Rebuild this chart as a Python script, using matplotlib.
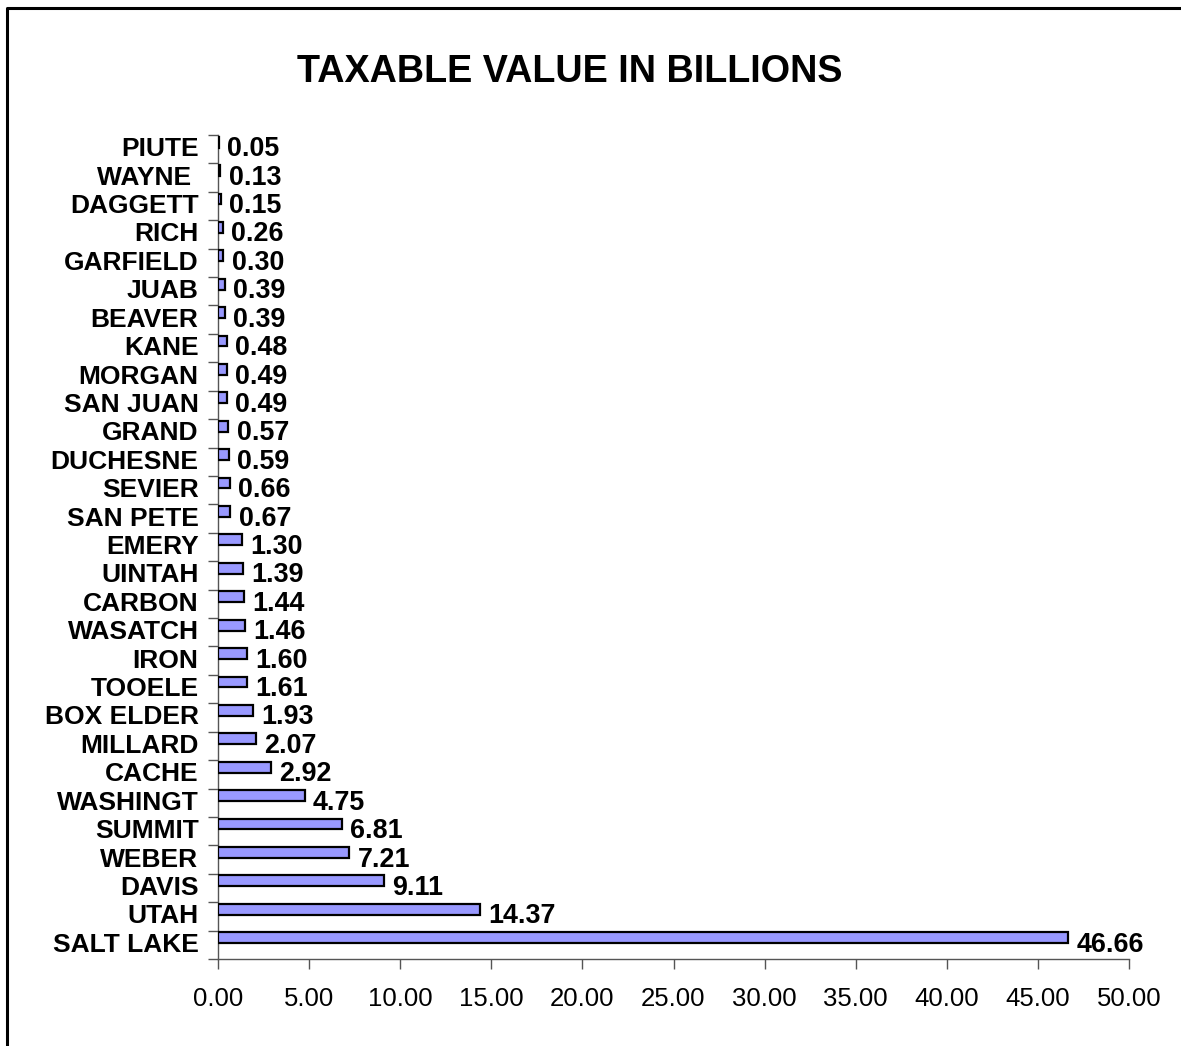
import numpy as np
import matplotlib.pyplot as plt
from matplotlib.lines import Line2D

plt.rcParams['font.family'] = ['Liberation Sans', 'DejaVu Sans']

# bottom to top, as drawn
counties = [
    "SALT LAKE", "UTAH", "DAVIS", "WEBER", "SUMMIT", "WASHINGT", "CACHE",
    "MILLARD", "BOX ELDER", "TOOELE", "IRON", "WASATCH", "CARBON", "UINTAH",
    "EMERY", "SAN PETE", "SEVIER", "DUCHESNE", "GRAND", "SAN JUAN", "MORGAN",
    "KANE", "BEAVER", "JUAB", "GARFIELD", "RICH", "DAGGETT", "WAYNE ", "PIUTE",
]
values = [
    46.66, 14.37, 9.11, 7.21, 6.81, 4.75, 2.92,
    2.07, 1.93, 1.61, 1.60, 1.46, 1.44, 1.39,
    1.30, 0.67, 0.66, 0.59, 0.57, 0.49, 0.49,
    0.48, 0.39, 0.39, 0.30, 0.26, 0.15, 0.13, 0.05,
]
xticks = [0, 5, 10, 15, 20, 25, 30, 35, 40, 45, 50]

fig = plt.figure(figsize=(11.81, 10.46), dpi=100)
ax = fig.add_axes([218 / 1181, 1 - 959 / 1046, (1129 - 218) / 1181, (959 - 135) / 1046])

# outer chart frame: only left and top edges are in the picture
fx, fy = 7 / 1181, 1 - 8 / 1046
fig.lines.append(Line2D([fx, fx, 1.05], [-0.05, fy, fy], transform=fig.transFigure,
                        color='black', linewidth=2.2, clip_on=False))

pos = np.arange(len(counties))
ax.barh(pos + 0.25, values, height=0.38, color='#9999ff',
        edgecolor='black', linewidth=1.6, zorder=3)

for y, v in zip(pos, values):
    ax.annotate(f"{v:.2f}", (v, y), xytext=(6, 0), textcoords='offset points',
                ha='left', va='center', fontsize=19.4, fontweight='bold')

ax.set_xlim(0, 50)
ax.set_ylim(-0.5, len(counties) - 0.5)
ax.set_xticks(xticks)
ax.set_xticklabels([f"{t:.2f}" for t in xticks], fontsize=18.5)
ax.set_yticks(pos)
ax.set_yticklabels(counties, fontsize=19, fontweight='bold', va='center')
ax.set_yticks(np.arange(len(counties) + 1) - 0.5, minor=True)

ax.tick_params(axis='y', which='major', length=0, pad=14)
ax.tick_params(axis='y', which='minor', length=7, width=1, color='#555555')
ax.tick_params(axis='x', length=7, width=1, color='#555555', pad=13)

for s in ['top', 'right']:
    ax.spines[s].set_visible(False)
for s in ['left', 'bottom']:
    ax.spines[s].set_color('#555555')
    ax.spines[s].set_linewidth(1)

fig.text(569.5 / 1181, 1 - 72 / 1046, "TAXABLE VALUE IN BILLIONS",
         ha='center', va='center', fontsize=27.2, fontweight='bold')

fig.savefig("out.png", dpi=100)
